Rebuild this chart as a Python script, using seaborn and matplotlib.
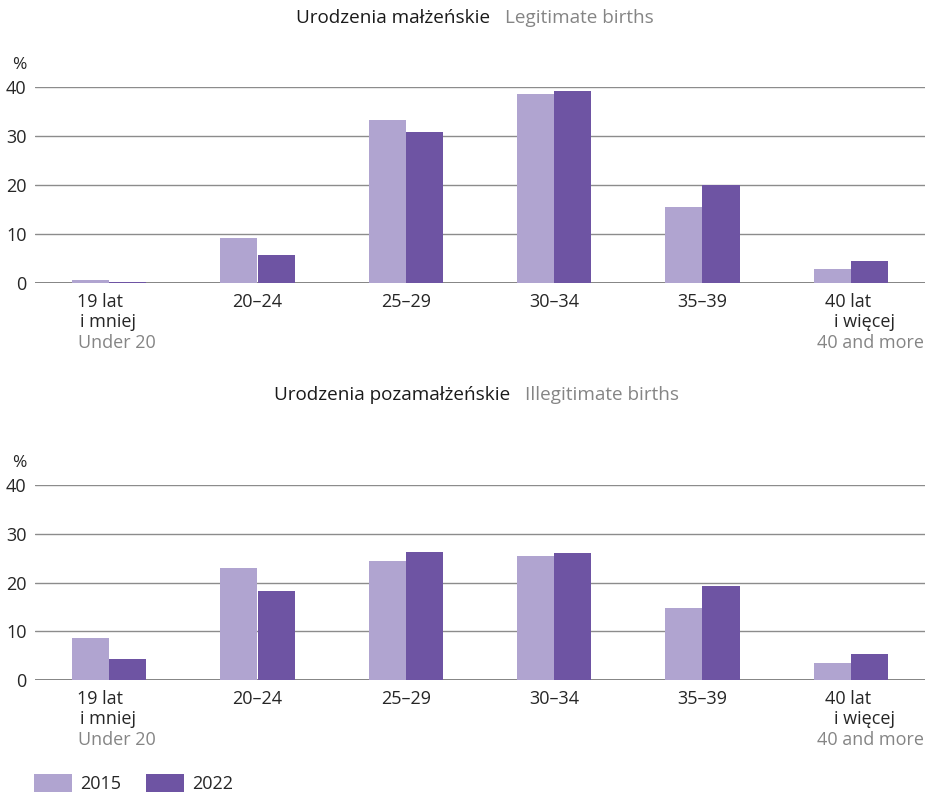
import matplotlib
matplotlib.use("Agg")
import matplotlib.pyplot as plt
import matplotlib.transforms as mtransforms
from matplotlib.patches import Patch
import seaborn as sns
import pandas as pd

# Age groups of mothers
age_groups = ["19 lat\ni mniej", "20–24", "25–29", "30–34", "35–39", "40 lat\ni więcej"]
age_groups_en = ["Under 20", "", "", "", "", "40 and more"]
years = ["2015", "2022"]

# Share of births by mother's age, %
legit_2015 = [0.6, 9.2, 33.3, 38.6, 15.5, 2.9]
legit_2022 = [0.3, 5.7, 30.8, 39.2, 20.0, 4.5]
illegit_2015 = [8.6, 23.0, 24.4, 25.4, 14.8, 3.5]
illegit_2022 = [4.3, 18.3, 26.3, 26.1, 19.3, 5.3]

titles_pl = ["Urodzenia małżeńskie", "Urodzenia pozamałżeńskie"]
titles_en = ["Legitimate births", "Illegitimate births"]

y_ticks = [0, 10, 20, 30, 40]

LIGHT = "#b0a4d0"
DARK = "#6e54a3"
GREY_TXT = "#858585"
GRID = "#8c8c8c"

sns.set_theme(style="white")
plt.rcParams["font.family"] = ["Open Sans", "DejaVu Sans"]
plt.rcParams["font.size"] = 13

W, H = 925, 794
fig = plt.figure(figsize=(W / 100, H / 100), dpi=100)


def long_frame(a, b):
    rows = []
    for yr, vals in zip(years, (a, b)):
        for g, v in zip(age_groups, vals):
            rows.append({"age": g, "year": yr, "value": v})
    return pd.DataFrame(rows)


def px_axes(top, bottom, left=35, right=925):
    return fig.add_axes([left / W, 1 - bottom / H, (right - left) / W, (bottom - top) / H])


panels = [
    (long_frame(legit_2015, legit_2022), 87, 283, 18, 65),
    (long_frame(illegit_2015, illegit_2022), 485, 680, 395, 463),
]

LBL = 13.0
# placement (offset in category units, alignment) of the three lines of two-line labels
layout = {
    0: [(-0.06, "center"), (-0.007, "center"), (0.055, "center")],
    5: [(-0.02, "center"), (0.09, "center"), (0.495, "right")],
}

for i, (df, top, bottom, title_y, pct_y) in enumerate(panels):
    ax = px_axes(top, bottom)
    sns.barplot(data=df, x="age", y="value", hue="year", order=age_groups,
                hue_order=years, palette=[LIGHT, DARK], width=0.5, gap=0,
                saturation=1, legend=False, ax=ax, errorbar=None,
                linewidth=0, edgecolor="none")
    ax.set_ylim(0, 40)
    ax.set_xlim(-0.5, len(age_groups) - 0.5)
    ax.set_yticks(y_ticks)
    ax.yaxis.grid(True, color=GRID, linewidth=1.0)
    ax.set_axisbelow(True)
    for s in ax.spines.values():
        s.set_visible(False)
    ax.axhline(0, color="#6f6f6f", linewidth=1.2, zorder=0.5)
    ax.tick_params(axis="y", length=0, pad=6, labelsize=LBL)
    ax.set_xticks(range(len(age_groups)))
    ax.set_xticklabels([])
    ax.tick_params(axis="x", length=0)
    ax.set_xlabel("")
    ax.set_ylabel("")

    # category labels under the bars
    tr = mtransforms.blended_transform_factory(ax.transData, ax.transAxes)
    for k, (pl, en) in enumerate(zip(age_groups, age_groups_en)):
        if "\n" in pl:
            first, second = pl.split("\n")
            (d1, a1), (d2, a2), (d3, a3) = layout[k]
            ax.text(k + d1, -0.05, first, transform=tr, ha=a1, va="top", fontsize=LBL)
            ax.text(k + d2, -0.155, second, transform=tr, ha=a2, va="top", fontsize=LBL)
            ax.text(k + d3, -0.26, en, transform=tr, ha=a3, va="top",
                    fontsize=LBL, color=GREY_TXT)
        else:
            ax.text(k, -0.05, pl, transform=tr, ha="center", va="top", fontsize=LBL)

    fig.text(12 / W, 1 - pct_y / H, "%", ha="left", va="center", fontsize=12.5)

    # panel heading: Polish in black, English in grey
    split_x = 490 if i == 0 else 510
    fig.text(split_x / W, 1 - title_y / H, titles_pl[i], ha="right", va="center",
             fontsize=13.6, color="#1a1a1a")
    fig.text((split_x + 15) / W, 1 - title_y / H, titles_en[i], ha="left", va="center",
             fontsize=13.6, color=GREY_TXT)

# legend
handles = [Patch(facecolor=LIGHT, edgecolor="none"), Patch(facecolor=DARK, edgecolor="none")]
fig.legend(handles, years, loc="lower left", bbox_to_anchor=(33 / W, 0), ncol=2,
           frameon=False, handlelength=2.1, handleheight=1.15, columnspacing=1.4,
           handletextpad=0.45, borderpad=0.05, borderaxespad=0, fontsize=LBL)

fig.savefig("out.png", dpi=100)
